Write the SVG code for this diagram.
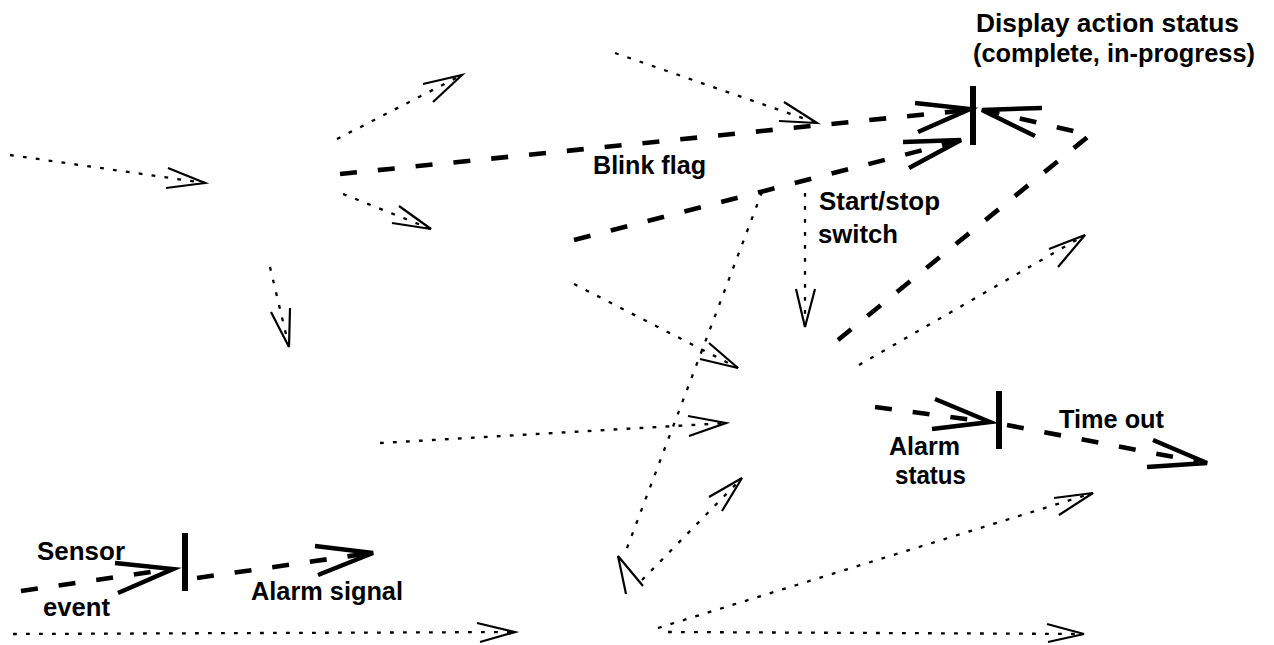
<svg xmlns="http://www.w3.org/2000/svg" width="1274" height="645" viewBox="0 0 1274 645">
  <style>
    .dot { fill: none; stroke: #000; stroke-width: 2.3; stroke-dasharray: 3.8 9.2; }
    .dash { fill: none; stroke: #000; stroke-width: 4.6; stroke-dasharray: 17 21; }
    .head { fill: none; stroke: #000; stroke-width: 2.2; stroke-linejoin: miter; }
    .headb { fill: none; stroke: #000; stroke-width: 4.5; stroke-linejoin: miter; }
    .bar { stroke: #000; stroke-width: 6; }
    .lbl { font-family: "Liberation Sans", Arial, sans-serif; font-weight: bold; font-size: 25px; fill: #000; }
  </style>
  <rect width="1274" height="645" fill="#fff"/>

  <g id="connectors">
    <!-- dotted flows -->
    <path class="dot" d="M10,155 L205,183"/>
    <polyline class="head" points="168,168 205,183 166,188"/>
    <path class="dot" d="M337,139 L462,75"/>
    <polyline class="head" points="423,84 462,75 433,102"/>
    <path class="dot" d="M343,194 L431,229"/>
    <polyline class="head" points="399,206 431,229 392,223"/>
    <path class="dot" d="M270,267 L289,347"/>
    <polyline class="head" points="271,312 289,347 290,308"/>
    <path class="dot" d="M615,53 L817,123"/>
    <polyline class="head" points="784,102 817,123 779,121"/>
    <path class="dot" d="M805,193 L805,327"/>
    <polyline class="head" points="796,289 805,327 815,289"/>
    <path class="dot" d="M762,192 L624,556"/>
    <polyline class="head" points="626,594 618,556 643,586"/>
    <path class="dot" d="M574,284 L738,368"/>
    <polyline class="head" points="709,343 738,368 700,359"/>
    <path class="dot" d="M380,443 L726,423"/>
    <polyline class="head" points="688,416 726,423 689,436"/>
    <path class="dot" d="M859,365 L1085,235"/>
    <polyline class="head" points="1049,249 1085,235 1058,267"/>
    <path class="dot" d="M642,580 L742,478"/>
    <polyline class="head" points="709,497 742,478 722,511"/>
    <path class="dot" d="M658,628 L1093,493"/>
    <polyline class="head" points="1054,498 1093,493 1059,515"/>
    <path class="dot" d="M668,632 L1084,634"/>
    <polyline class="head" points="1047,624 1084,634 1048,642"/>
    <path class="dot" d="M13,634 L515,632"/>
    <polyline class="head" points="477,623 515,632 480,642"/>

    <!-- dashed flows -->
    <path class="dash" d="M340,174 L968,110"/>
    <polyline class="headb" points="915,103 970,109 918,132"/>
    <path class="dash" d="M574,240 L958,141"/>
    <polyline class="headb" points="903,142 961,140 909,168"/>
    <path class="dash" d="M838,340 L1090,135 L984,110"/>
    <polyline class="headb" points="1042,108 982,110 1035,136"/>
    <path class="dash" d="M21,591 L171,569"/>
    <polyline class="headb" points="115,563 173,569 118,593"/>
    <path class="dash" d="M197,578 L371,553"/>
    <polyline class="headb" points="315,546 373,553 318,575"/>
    <path class="dash" d="M875,407 L988,422"/>
    <polyline class="headb" points="935,399 990,422 932,429"/>
    <path class="dash" d="M1007,425 L1205,463"/>
    <polyline class="headb" points="1153,440 1207,463 1147,467"/>
  </g>

  <g id="display-status">
    <line class="bar" x1="973" y1="86" x2="973" y2="145"/>
    <text class="lbl" x="976" y="32" textLength="263" lengthAdjust="spacingAndGlyphs">Display action status</text>
    <text class="lbl" x="973" y="62" textLength="282" lengthAdjust="spacingAndGlyphs">(complete, in-progress)</text>
  </g>

  <g id="alarm-status">
    <line class="bar" x1="999" y1="391" x2="999" y2="449"/>
    <text class="lbl" x="889" y="455" textLength="71" lengthAdjust="spacingAndGlyphs">Alarm</text>
    <text class="lbl" x="895" y="484" textLength="71" lengthAdjust="spacingAndGlyphs">status</text>
    <text class="lbl" x="1059" y="428" textLength="105" lengthAdjust="spacingAndGlyphs">Time out</text>
  </g>

  <g id="sensor-event">
    <line class="bar" x1="185" y1="533" x2="185" y2="591"/>
    <text class="lbl" x="37" y="560" textLength="88" lengthAdjust="spacingAndGlyphs">Sensor</text>
    <text class="lbl" x="43" y="616" textLength="67" lengthAdjust="spacingAndGlyphs">event</text>
    <text class="lbl" x="251" y="600" textLength="152" lengthAdjust="spacingAndGlyphs">Alarm signal</text>
  </g>

  <g id="blink-flag">
    <text class="lbl" x="593" y="174" textLength="113" lengthAdjust="spacingAndGlyphs">Blink flag</text>
  </g>

  <g id="start-stop">
    <text class="lbl" x="819" y="210" textLength="121" lengthAdjust="spacingAndGlyphs">Start/stop</text>
    <text class="lbl" x="818" y="243" textLength="80" lengthAdjust="spacingAndGlyphs">switch</text>
  </g>
</svg>
